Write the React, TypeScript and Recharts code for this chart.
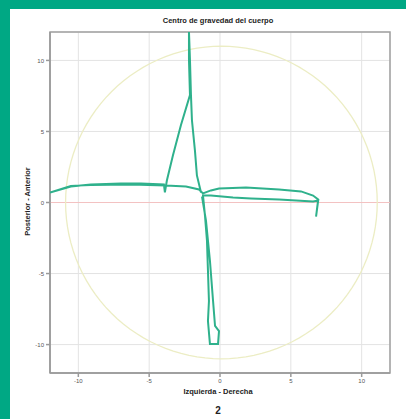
import React from "react";
import {
  ScatterChart,
  Scatter,
  XAxis,
  YAxis,
  CartesianGrid,
  ReferenceLine,
  ReferenceArea,
} from "recharts";

// Tick values
const xTicks = [-10, -5, 0, 5, 10];
const yTicks = [-10, -5, 0, 5, 10];

// Centre-of-gravity trace (Izquierda-Derecha, Posterior-Anterior), in drawing order
const traceX = [
  -1.34, -1.63, -1.77, -1.98, -2.05, -2.12, -2.19, -2.19, -2.12, -2.76, -3.32, -3.75, -3.89, -3.96,
  -5.58, -7.0, -9.12, -10.53, -12.0, -10.53, -9.12, -6.29, -3.82, -2.4, -1.48, -1.2,
  -0.64, -0.07, 1.84, 4.17, 5.72, 6.57, 6.93, 6.78, 6.93, 6.57, 4.17, 2.19, 0.92, -0.64, -1.2,
  -1.06, -0.92, -0.85, -0.78, -0.85, -0.71, -0.14, -0.07, -0.35, -0.49, -0.71, -0.99, -1.27,
];
const traceY = [
  0.71, 1.91, 3.67, 5.79, 7.56, 10.04, 12.0, 10.04, 7.56, 5.44, 3.32, 1.55, 0.71, 1.27,
  1.34, 1.34, 1.27, 1.13, 0.7, 1.17, 1.24, 1.27, 1.2, 1.13, 0.92, 0.64,
  0.85, 0.99, 1.06, 0.92, 0.78, 0.49, 0.21, -0.99, 0.14, 0.07, 0.21, 0.28, 0.35, 0.49, 0.49,
  -0.92, -2.69, -4.81, -6.93, -8.34, -9.96, -9.96, -9.05, -8.69, -6.93, -4.1, -1.27, 0.42,
];

// Reference circle: centre and radius
const circleCenter = [0.1, 0];
const circleRadius = [11];

const trace = traceX.map((x, i) => ({ x, y: traceY[i] }));
const circle = Array.from({ length: 121 }, (_, i) => {
  const a = (i / 120) * 2 * Math.PI;
  return {
    x: circleCenter[0] + circleRadius[0] * Math.cos(a),
    y: circleCenter[1] + circleRadius[0] * Math.sin(a),
  };
});

const labelFont = "'Liberation Sans', Arial, sans-serif";
const Empty = () => <g />;

export default function App() {
  return (
    <>
      <style>{"body{margin:0}"}</style>
      <div style={{ width: 406, height: 419, background: "#00a884", position: "relative" }}>
        <div
          style={{
            position: "absolute",
            left: 10,
            top: 9,
            width: 396,
            height: 410,
            background: "#ffffff",
          }}
        >
          <ScatterChart width={396} height={410} margin={{ top: 23, right: 16, bottom: 0, left: 0 }}>
            <CartesianGrid stroke="#e3e3e3" strokeWidth={1} />
            <XAxis
              type="number"
              dataKey="x"
              domain={[-12, 12]}
              ticks={xTicks}
              allowDataOverflow
              height={46}
              tickSize={4}
              stroke="#9a9a9a"
              strokeWidth={1.5}
              tick={{ fontSize: 6, fill: "#555", fontFamily: labelFont }}
            />
            <YAxis
              type="number"
              dataKey="y"
              domain={[-12, 12]}
              ticks={yTicks}
              allowDataOverflow
              width={40}
              tickSize={4}
              stroke="#9a9a9a"
              strokeWidth={1.5}
              tick={{ fontSize: 6, fill: "#555", fontFamily: labelFont }}
            />
            <ReferenceLine y={0} stroke="#f3c2c2" strokeWidth={1} />
            <Scatter
              data={circle}
              line={{ stroke: "#ecedc4", strokeWidth: 1.3 }}
              lineType="joint"
              shape={Empty}
              isAnimationActive={false}
            />
            <Scatter
              data={trace}
              line={{ stroke: "#2fb18c", strokeWidth: 2 }}
              lineType="joint"
              shape={Empty}
              isAnimationActive={false}
            />
            <ReferenceArea
              x1={-12}
              x2={12}
              y1={-12}
              y2={12}
              fill="none"
              stroke="#a0a0a0"
              strokeWidth={1.5}
            />
          </ScatterChart>
        </div>
        <div
          style={{
            position: "absolute",
            left: 118,
            width: 200,
            top: 16,
            textAlign: "center",
            fontFamily: labelFont,
            fontWeight: "bold",
            fontSize: 7.5,
            color: "#222",
          }}
        >
          Centro de gravedad del cuerpo
        </div>
        <div
          style={{
            position: "absolute",
            left: 118,
            width: 200,
            top: 387,
            textAlign: "center",
            fontFamily: labelFont,
            fontWeight: "bold",
            fontSize: 7.5,
            color: "#222",
          }}
        >
          Izquierda - Derecha
        </div>
        <div
          style={{
            position: "absolute",
            left: 118,
            width: 200,
            top: 405,
            textAlign: "center",
            fontFamily: labelFont,
            fontWeight: "bold",
            fontSize: 10,
            color: "#222",
          }}
        >
          2
        </div>
        <div
          style={{
            position: "absolute",
            left: 27 - 60,
            top: 203 - 6,
            width: 120,
            textAlign: "center",
            transform: "rotate(-90deg)",
            fontFamily: labelFont,
            fontWeight: "bold",
            fontSize: 7.5,
            color: "#222",
          }}
        >
          Posterior - Anterior
        </div>
      </div>
    </>
  );
}
